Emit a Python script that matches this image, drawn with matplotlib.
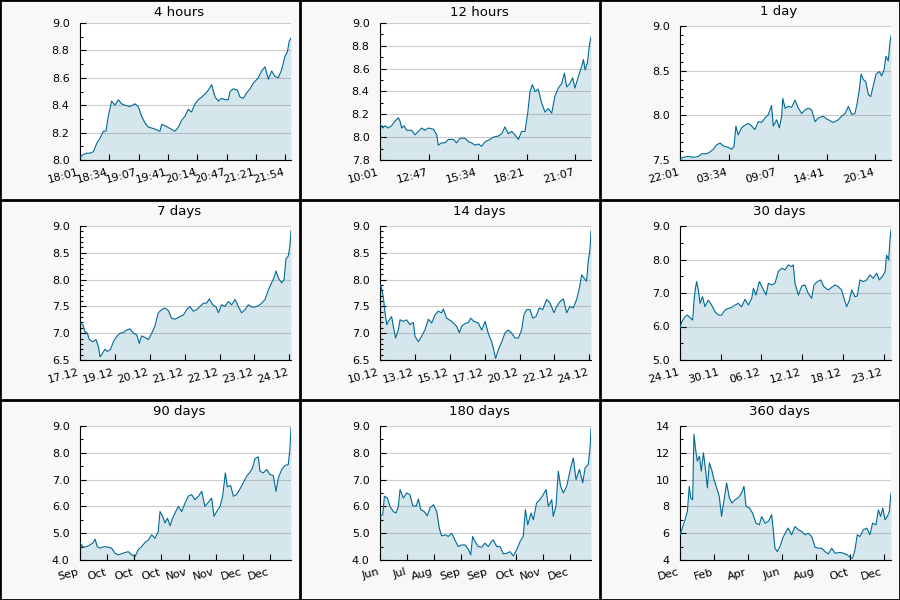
import matplotlib
matplotlib.use("Agg")
import matplotlib.pyplot as plt
import numpy as np
from matplotlib.lines import Line2D
from matplotlib.patches import Rectangle
from matplotlib.ticker import FormatStrFormatter, MultipleLocator
from matplotlib.transforms import ScaledTranslation

# elapsed time as percent of each window, and price
t_4h = [0.0, 1.6, 3.2, 4.7, 6.3, 7.9, 9.5, 11.1, 12.3, 13.4, 15.0, 16.6, 18.2, 19.7, 21.3, 23.7,
        26.1, 27.6, 29.2, 30.8, 32.4, 34.8, 36.3, 37.9, 38.7, 40.3, 42.7, 45.0, 46.6, 48.2, 49.8,
        51.3, 52.9, 54.5, 56.1, 57.7, 59.2, 60.8, 62.4, 64.0, 65.6, 67.1, 68.7, 70.3, 71.1, 72.7,
        74.6, 75.8, 77.4, 79.0, 80.6, 82.1, 84.5, 86.1, 87.7, 89.3, 90.8, 92.4, 94.0, 95.6, 97.2,
        98.3, 99.2, 100.0]
v_4h = [8.02, 8.04, 8.05, 8.05, 8.06, 8.12, 8.16, 8.21, 8.21, 8.32, 8.43, 8.40, 8.44, 8.41, 8.40, 8.39,
        8.41, 8.39, 8.32, 8.27, 8.24, 8.23, 8.22, 8.21, 8.26, 8.25, 8.23, 8.21, 8.24, 8.29, 8.32,
        8.37, 8.35, 8.41, 8.44, 8.46, 8.48, 8.51, 8.55, 8.46, 8.43, 8.45, 8.44, 8.44, 8.50, 8.52,
        8.51, 8.46, 8.45, 8.49, 8.52, 8.56, 8.60, 8.65, 8.68, 8.59, 8.65, 8.61, 8.60, 8.66, 8.76,
        8.79, 8.87, 8.89]

t_12h = [0.0, 1.3, 2.4, 3.9, 5.5, 7.1, 8.7, 9.5, 10.3, 11.4, 12.6, 15.0, 16.6, 18.2, 19.7, 21.3,
         22.9, 25.3, 26.9, 27.6, 29.2, 30.8, 32.4, 34.8, 36.3, 37.9, 40.3, 41.9, 43.4, 45.0, 46.6,
         48.2, 49.8, 52.1, 53.7, 56.1, 57.7, 59.2, 60.8, 62.4, 64.0, 65.6, 67.1, 68.7, 70.0, 71.1,
         72.2, 73.5, 75.0, 76.6, 78.2, 79.8, 81.4, 82.9, 84.5, 86.1, 87.4, 88.5, 90.0, 91.3, 92.4,
         94.0, 95.6, 96.4, 97.2, 98.3, 99.2, 100.0]
v_12h = [8.12, 8.08, 8.10, 8.08, 8.10, 8.14, 8.17, 8.14, 8.08, 8.10, 8.06, 8.06, 8.02, 8.05, 8.08, 8.06,
         8.08, 8.07, 8.02, 7.93, 7.95, 7.95, 7.98, 7.98, 7.95, 7.99, 7.99, 7.96, 7.95, 7.93, 7.94,
         7.92, 7.96, 7.98, 8.00, 8.01, 8.03, 8.09, 8.03, 8.05, 8.02, 7.98, 8.05, 8.05, 8.21, 8.40,
         8.46, 8.40, 8.42, 8.30, 8.22, 8.25, 8.21, 8.36, 8.43, 8.47, 8.56, 8.44, 8.47, 8.52, 8.43,
         8.53, 8.62, 8.68, 8.59, 8.65, 8.80, 8.88]

t_1d = [0.0, 1.6, 3.9, 6.3, 8.7, 10.3, 12.6, 14.2, 15.8, 17.4, 19.0, 20.5, 22.9, 24.5, 25.6, 26.5,
        27.6, 29.2, 30.8, 32.4, 34.0, 35.5, 37.1, 38.7, 40.3, 41.9, 43.4, 44.2, 45.8, 47.1, 48.2,
        48.7, 49.8, 51.3, 52.9, 54.5, 56.1, 57.7, 59.2, 60.8, 62.4, 64.0, 65.6, 67.9, 69.5, 71.1,
        72.7, 75.0, 76.6, 78.2, 79.8, 81.4, 82.9, 84.0, 85.0, 85.8, 86.9, 88.0, 89.3, 90.4, 91.6,
        92.9, 94.5, 95.6, 96.7, 97.6, 98.7, 99.5, 100.0]
v_1d = [7.51, 7.53, 7.54, 7.53, 7.54, 7.57, 7.57, 7.59, 7.62, 7.67, 7.69, 7.66, 7.64, 7.62, 7.65, 7.88,
        7.78, 7.86, 7.89, 7.91, 7.88, 7.84, 7.93, 7.92, 7.97, 8.01, 8.11, 7.88, 7.95, 7.86, 7.99,
        8.19, 8.08, 8.10, 8.09, 8.17, 8.08, 8.02, 8.06, 8.08, 8.06, 7.93, 7.97, 7.99, 7.96, 7.94,
        7.92, 7.95, 7.99, 8.02, 8.10, 8.01, 8.02, 8.14, 8.29, 8.46, 8.40, 8.38, 8.23, 8.21, 8.33,
        8.46, 8.49, 8.44, 8.51, 8.66, 8.61, 8.81, 8.89]

t_7d = [0.0, 1.3, 2.4, 3.5, 4.4, 6.0, 7.6, 8.7, 9.5, 10.6, 11.8, 13.0, 14.5, 15.8, 17.4, 19.0,
        20.5, 22.1, 23.7, 25.3, 26.9, 28.1, 29.2, 30.8, 32.4, 34.0, 35.5, 37.1, 38.7, 40.3, 41.9,
        43.4, 45.0, 47.4, 49.0, 50.6, 52.1, 53.7, 55.3, 56.9, 58.5, 60.0, 61.3, 62.9, 64.5, 65.6,
        67.1, 68.7, 70.3, 71.9, 73.5, 75.0, 76.6, 78.2, 79.8, 81.4, 82.9, 84.5, 86.1, 87.7, 89.3,
        90.8, 91.9, 92.9, 94.0, 95.6, 96.7, 97.6, 98.7, 99.5, 100.0]
v_7d = [7.19, 7.16, 7.03, 7.00, 6.88, 6.84, 6.88, 6.75, 6.56, 6.62, 6.70, 6.66, 6.70, 6.84, 6.94, 7.00,
        7.01, 7.06, 7.08, 7.00, 6.97, 6.81, 6.95, 6.92, 6.88, 7.00, 7.13, 7.38, 7.44, 7.47, 7.42,
        7.28, 7.26, 7.31, 7.34, 7.44, 7.50, 7.41, 7.44, 7.50, 7.56, 7.56, 7.64, 7.53, 7.49, 7.38,
        7.53, 7.50, 7.59, 7.53, 7.63, 7.50, 7.38, 7.44, 7.53, 7.49, 7.49, 7.51, 7.56, 7.63, 7.81,
        7.94, 8.03, 8.16, 8.03, 7.94, 8.00, 8.38, 8.44, 8.63, 8.91]

t_14d = [0.0, 0.8, 1.6, 2.4, 3.2, 4.4, 5.5, 6.3, 7.4, 8.7, 9.5, 11.1, 12.6, 14.2, 15.8, 16.6,
         18.2, 19.7, 21.3, 22.9, 24.5, 26.1, 27.6, 29.2, 30.0, 31.6, 34.0, 36.3, 37.6, 38.7, 40.3,
         41.9, 43.0, 44.5, 46.6, 48.2, 49.8, 51.3, 52.9, 53.7, 54.8, 56.1, 57.7, 59.2, 60.8, 62.4,
         64.0, 65.6, 67.1, 68.2, 69.5, 71.1, 72.4, 73.9, 75.5, 77.1, 79.0, 80.6, 82.5, 83.7, 85.3,
         86.9, 88.5, 90.0, 91.6, 93.2, 94.5, 95.6, 96.7, 97.9, 98.7, 99.5, 100.0]
v_14d = [7.91, 7.83, 7.66, 7.38, 7.16, 7.25, 7.31, 7.13, 6.91, 7.06, 7.25, 7.22, 7.25, 7.16, 7.20, 6.94,
         6.84, 6.94, 7.06, 7.26, 7.19, 7.34, 7.41, 7.38, 7.45, 7.28, 7.22, 7.13, 7.01, 7.13, 7.18,
         7.20, 7.28, 7.22, 7.19, 7.06, 7.22, 7.00, 6.84, 6.72, 6.53, 6.69, 6.84, 7.00, 7.06, 7.00,
         6.91, 6.91, 7.06, 7.34, 7.44, 7.44, 7.28, 7.31, 7.47, 7.44, 7.63, 7.56, 7.38, 7.50, 7.59,
         7.64, 7.38, 7.50, 7.47, 7.63, 7.84, 8.09, 8.03, 7.97, 8.34, 8.56, 8.91]

t_30d = [0.0, 0.8, 2.4, 3.5, 4.7, 6.0, 6.6, 7.3, 7.9, 8.7, 9.5, 10.7, 11.8, 13.4, 15.0, 16.6,
         18.2, 19.7, 21.3, 22.9, 24.5, 26.1, 27.6, 29.2, 30.8, 32.4, 34.0, 34.8, 36.0, 37.6, 39.2,
         40.8, 41.9, 43.4, 45.0, 46.6, 48.2, 49.8, 51.3, 52.9, 53.7, 54.5, 56.1, 57.7, 59.2, 60.8,
         62.4, 63.5, 65.1, 66.7, 68.2, 70.3, 71.9, 73.5, 75.0, 76.6, 77.7, 79.0, 80.3, 81.4, 82.9,
         84.0, 85.3, 86.9, 88.5, 90.0, 91.6, 93.2, 94.5, 96.1, 97.2, 97.9, 98.9, 99.5, 100.0]
v_30d = [5.95, 6.14, 6.29, 6.34, 6.27, 6.19, 6.74, 7.14, 7.34, 7.09, 6.69, 6.89, 6.59, 6.79, 6.64, 6.44,
         6.34, 6.34, 6.49, 6.54, 6.57, 6.64, 6.69, 6.59, 6.81, 6.64, 6.84, 7.14, 6.94, 7.34, 7.14,
         6.94, 7.29, 7.24, 7.29, 7.64, 7.74, 7.69, 7.84, 7.79, 7.84, 7.29, 6.94, 7.21, 7.24, 6.99,
         6.84, 7.24, 7.34, 7.39, 7.19, 7.09, 7.17, 7.24, 7.19, 7.09, 6.84, 6.59, 6.79, 7.09, 6.89,
         6.91, 7.39, 7.34, 7.39, 7.54, 7.44, 7.59, 7.39, 7.51, 7.64, 8.13, 7.99, 8.58, 8.88]

t_90d = [0.0, 1.6, 3.2, 4.7, 6.3, 7.1, 8.2, 9.5, 11.4, 13.4, 15.0, 16.6, 18.2, 19.7, 21.3, 22.9,
         24.5, 26.1, 27.6, 29.2, 30.8, 32.4, 34.0, 35.5, 37.1, 37.9, 39.2, 40.3, 41.4, 42.7, 43.9,
         45.0, 46.6, 48.2, 49.8, 51.3, 52.9, 54.5, 56.1, 57.7, 59.2, 60.8, 62.4, 63.5, 64.8, 66.4,
         67.6, 68.9, 69.8, 71.4, 72.7, 74.2, 75.8, 77.4, 79.0, 80.6, 81.8, 82.9, 84.5, 85.3, 86.9,
         88.5, 90.0, 91.6, 92.9, 94.0, 95.6, 97.2, 98.7, 99.5, 100.0]
v_90d = [4.63, 4.48, 4.50, 4.56, 4.65, 4.78, 4.50, 4.44, 4.50, 4.48, 4.44, 4.25, 4.19, 4.23, 4.28, 4.31,
         4.19, 4.13, 4.38, 4.50, 4.65, 4.75, 4.94, 4.81, 5.06, 5.81, 5.63, 5.38, 5.56, 5.28, 5.56,
         5.75, 6.00, 5.81, 6.13, 6.38, 6.44, 6.25, 6.38, 6.56, 6.00, 6.15, 6.31, 5.63, 5.81, 6.00,
         6.38, 7.25, 6.73, 6.78, 6.38, 6.44, 6.65, 6.88, 7.13, 7.28, 7.44, 7.78, 7.85, 7.31, 7.25,
         7.38, 7.19, 7.15, 6.56, 7.06, 7.38, 7.53, 7.56, 8.13, 8.94]

t_180d = [0.0, 1.3, 2.1, 3.5, 4.7, 6.3, 7.6, 8.7, 9.5, 11.1, 12.6, 14.2, 15.5, 17.1, 18.2, 19.3,
          20.9, 22.4, 23.7, 25.3, 26.9, 28.1, 29.2, 30.8, 32.4, 34.0, 35.5, 37.1, 38.7, 40.3, 41.9,
          43.0, 43.9, 45.0, 46.6, 48.2, 49.8, 51.3, 52.9, 53.7, 55.3, 56.9, 58.5, 60.0, 61.6, 63.2,
          64.8, 66.4, 67.9, 68.9, 70.0, 71.6, 72.7, 74.2, 75.8, 77.4, 78.7, 79.8, 81.4, 82.1, 83.4,
          84.5, 85.6, 86.9, 88.5, 90.0, 91.6, 92.9, 94.5, 96.1, 97.2, 98.7, 99.5, 100.0]
v_180d = [5.63, 5.69, 6.38, 6.31, 6.00, 5.81, 5.75, 6.00, 6.63, 6.31, 6.50, 6.44, 6.03, 6.00, 6.28, 5.88,
          5.81, 5.65, 5.94, 6.06, 5.81, 5.19, 4.90, 4.94, 4.88, 5.00, 4.75, 4.50, 4.56, 4.56, 4.40,
          4.19, 4.88, 4.69, 4.50, 4.48, 4.63, 4.50, 4.69, 4.75, 4.50, 4.50, 4.23, 4.25, 4.31, 4.15,
          4.38, 4.69, 4.88, 5.88, 5.31, 5.75, 5.50, 6.13, 6.25, 6.44, 6.63, 6.00, 6.25, 5.63, 6.00,
          7.31, 6.75, 6.50, 6.75, 7.31, 7.81, 7.00, 7.38, 6.88, 7.44, 7.56, 8.13, 8.90]

t_360d = [0.0, 1.3, 2.4, 3.5, 4.4, 5.1, 6.0, 6.6, 7.4, 8.2, 9.2, 10.1, 11.1, 12.0, 13.0, 13.9,
          15.0, 16.1, 17.4, 18.6, 19.7, 20.9, 22.1, 23.4, 24.6, 26.1, 27.6, 29.2, 30.3, 31.3, 32.9,
          34.4, 36.0, 37.6, 38.7, 40.3, 41.9, 43.4, 44.2, 45.0, 46.1, 47.4, 48.7, 49.8, 51.3, 52.9,
          54.5, 56.1, 57.7, 59.2, 60.8, 62.4, 64.0, 65.6, 67.1, 68.7, 70.3, 71.9, 73.5, 75.0, 76.6,
          78.2, 79.3, 80.6, 81.8, 82.9, 84.0, 85.3, 86.9, 88.5, 90.0, 91.3, 92.9, 94.0, 95.1, 96.1,
          97.2, 98.3, 99.2, 100.0]
v_360d = [5.88, 6.50, 7.00, 7.63, 9.50, 8.63, 8.50, 13.38, 12.25, 11.38, 11.75, 10.63, 12.00, 10.88, 9.38, 11.25,
          10.75, 10.00, 9.38, 8.75, 7.25, 8.50, 9.75, 8.63, 8.25, 8.50, 8.63, 9.00, 9.50, 8.00, 7.88,
          7.50, 6.75, 6.63, 7.25, 6.75, 6.88, 7.38, 6.25, 4.88, 4.63, 5.00, 5.63, 6.00, 6.38, 5.88,
          6.50, 6.25, 6.13, 5.88, 6.00, 5.75, 4.95, 4.88, 4.88, 4.63, 4.45, 4.88, 4.50, 4.55, 4.55,
          4.45, 4.38, 4.20, 4.13, 4.75, 5.88, 5.75, 6.25, 6.38, 5.88, 6.75, 6.63, 7.75, 7.25, 7.88,
          7.00, 7.25, 7.63, 9.00]

titles = ["4 hours", "12 hours", "1 day", "7 days", "14 days", "30 days",
          "90 days", "180 days", "360 days"]
window_s = [14400, 43200, 86400, 604800, 1209600, 2592000, 7776000, 15552000, 31104000]
tick_step_s = [2000, 10000, 20000, 100000, 200000, 500000, 1000000, 2000000, 5000000]
tick_labels = [
    ["18:01", "18:34", "19:07", "19:41", "20:14", "20:47", "21:21", "21:54"],
    ["10:01", "12:47", "15:34", "18:21", "21:07"],
    ["22:01", "03:34", "09:07", "14:41", "20:14"],
    ["17.12", "19.12", "20.12", "21.12", "22.12", "23.12", "24.12"],
    ["10.12", "13.12", "15.12", "17.12", "20.12", "22.12", "24.12"],
    ["24.11", "30.11", "06.12", "12.12", "18.12", "23.12"],
    ["Sep", "Oct", "Oct", "Oct", "Nov", "Nov", "Dec", "Dec"],
    ["Jun", "Jul", "Aug", "Sep", "Sep", "Oct", "Nov", "Dec"],
    ["Dec", "Feb", "Apr", "Jun", "Aug", "Oct", "Dec"],
]
y_ranges = [(8.0, 9.0), (7.8, 9.0), (7.5, 9.0), (6.5, 9.0), (6.5, 9.0),
            (5.0, 9.0), (4.0, 9.0), (4.0, 9.0), (4, 14)]
y_major = [0.2, 0.2, 0.5, 0.5, 0.5, 1.0, 1.0, 1.0, 2]
y_minor = [0.1, 0.1, 0.1, 0.1, 0.1, 0.5, 0.5, 0.5, 1]
y_fmt = ["%.1f"] * 8 + ["%d"]

series = [(t_4h, v_4h), (t_12h, v_12h), (t_1d, v_1d), (t_7d, v_7d), (t_14d, v_14d),
          (t_30d, v_30d), (t_90d, v_90d), (t_180d, v_180d), (t_360d, v_360d)]

LINE = "#006994"
FILL = "#d6e6ed"
BG = "#f8f8f8"
W, H = 900, 600

fig = plt.figure(figsize=(9, 6), dpi=100)
fig.patch.set_facecolor(BG)

for i in range(9):
    r, c = divmod(i, 3)
    px, py = 300 * c, 200 * r
    top = py + (23 if i < 2 else 26)
    bottom = py + 160
    ax = fig.add_axes([(px + 80) / W, 1 - bottom / H, 211 / W, (bottom - top) / H])
    ax.set_facecolor("white")

    t, v = series[i]
    x = np.array(t) / 100.0 * window_s[i]
    lo, hi = y_ranges[i]
    ax.fill_between(x, v, lo, color=FILL, lw=0, zorder=1)
    ax.plot(x, v, color=LINE, lw=0.8, zorder=3)

    ax.set_xlim(0, window_s[i])
    ax.set_ylim(lo, hi)
    ax.yaxis.set_major_locator(MultipleLocator(y_major[i]))
    ax.yaxis.set_minor_locator(MultipleLocator(y_minor[i]))
    ax.yaxis.set_major_formatter(FormatStrFormatter(y_fmt[i]))
    ax.set_axisbelow(False)
    ax.yaxis.grid(True, color="gray", alpha=0.4, lw=0.8)

    ticks = np.arange(len(tick_labels[i])) * tick_step_s[i]
    ax.set_xticks(ticks, tick_labels[i], rotation=15, ha="right")
    off = ScaledTranslation(-4 / 72, 0, fig.dpi_scale_trans)
    for lab in ax.get_xticklabels():
        lab.set_transform(lab.get_transform() + off)

    for s in ("top", "right"):
        ax.spines[s].set_visible(False)
    for s in ("left", "bottom"):
        ax.spines[s].set_linewidth(0.8)
    ax.tick_params(which="major", direction="in", length=4.3, width=0.8, labelsize=8)
    ax.tick_params(which="minor", direction="in", length=2, width=0.8)
    ax.tick_params(axis="y", which="major", pad=7.5)
    ax.tick_params(axis="x", which="major", pad=5)

    fig.text((px + 179) / W, 1 - (py + 12) / H, titles[i], ha="center", va="center", fontsize=9.5)

# panel separators and outer frame
for xs in (300, 600):
    fig.add_artist(Line2D([xs / W, xs / W], [0, 1], color="black", lw=2, transform=fig.transFigure))
for ys in (200, 400):
    fig.add_artist(Line2D([0, 1], [1 - ys / H, 1 - ys / H], color="black", lw=2, transform=fig.transFigure))
fig.add_artist(Rectangle((0, 0), 1, 1, fill=False, ec="black", lw=2, transform=fig.transFigure))

fig.savefig("out.png", dpi=100, facecolor=BG)
